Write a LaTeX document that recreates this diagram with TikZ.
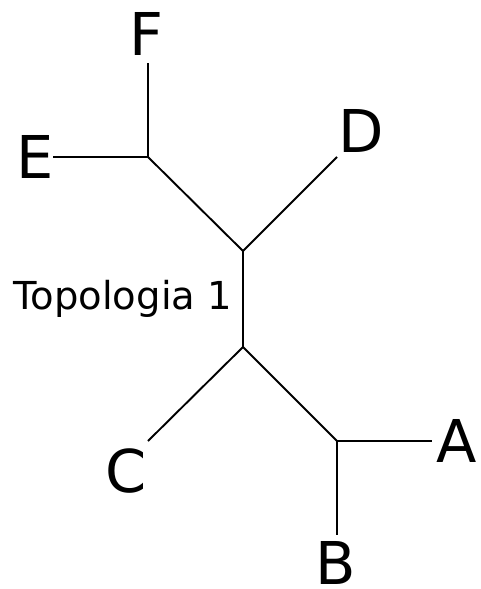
\documentclass[tikz,border=0pt]{standalone}
\usepackage{fontspec}
\setmainfont{DejaVu Sans}
\begin{document}
\begin{tikzpicture}[x=1pt,y=-1pt,
  branch/.style={line width=1.9pt, line cap=butt},
  leaf/.style={inner sep=0pt, anchor=base, font=\fontsize{59}{59}\selectfont},
  caption/.style={inner sep=0pt, anchor=base west, font=\fontsize{38.5}{38.5}\selectfont}]
\path[use as bounding box] (0,0) rectangle (481,589);
% junctions
\coordinate (jEF) at (148,157);
\coordinate (jU) at (243,251);
\coordinate (jL) at (243,347);
\coordinate (jAB) at (337,441);
% free ends
\coordinate (eF) at (148,63);
\coordinate (eE) at (53,157);
\coordinate (eD) at (337,157);
\coordinate (eC) at (148,441);
\coordinate (eA) at (432,441);
\coordinate (eB) at (337,535);
% labels
\node[leaf] (F) at (146,55) {F};
\node[leaf] (E) at (35.5,178) {E};
\node[leaf] (D) at (361,152) {D};
\node[leaf] (C) at (126,492) {C};
\node[leaf] (A) at (457,462) {A};
\node[leaf] (B) at (336,584.5) {B};
\node[caption] (T) at (13.5,309) {Topologia 1};
% branches
\draw[branch] (eF) -- (jEF);
\draw[branch] (eE) -- (jEF);
\draw[branch] (jEF) -- (jU);
\draw[branch] (eD) -- (jU);
\draw[branch] (jU) -- (jL);
\draw[branch] (jL) -- (eC);
\draw[branch] (jL) -- (jAB);
\draw[branch] (jAB) -- (eA);
\draw[branch] (jAB) -- (eB);
\end{tikzpicture}
\end{document}
